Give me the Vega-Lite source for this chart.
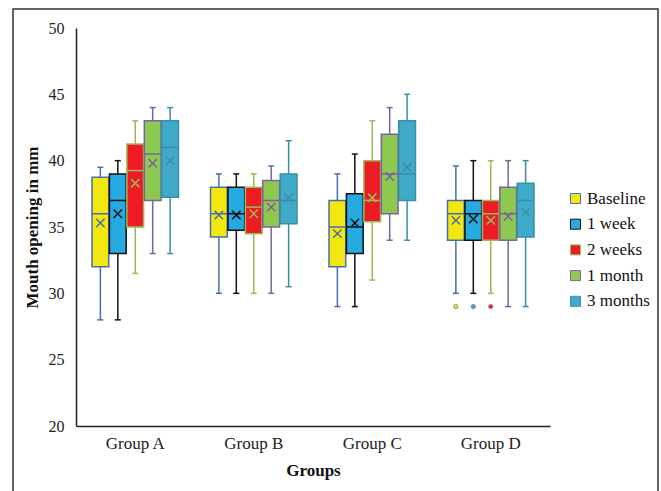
{
  "$schema": "https://vega.github.io/schema/vega-lite/v6.json",
  "width": 645,
  "height": 485,
  "autosize": {"type": "none"},
  "padding": {"left": 13, "top": 9, "right": 3, "bottom": -3},
  "background": "white",
  "config": {
    "font": "Liberation Serif",
    "view": {"stroke": "#333333", "strokeWidth": 1.5},
    "axis": {"grid": false, "ticks": false, "domainColor": "#222222", "domainWidth": 1.5, "labelColor": "#222222", "titleColor": "#111111", "labelFont": "Liberation Serif", "titleFont": "Liberation Serif"},
    "legend": {"labelFont": "Liberation Serif", "titleFont": "Liberation Serif"}
  },
  "datasets": {
    "stats": [
      {"group": "Group A", "time": "Baseline", "min": 28, "q1": 32, "median": 36, "q3": 38.75, "max": 39.5, "mean": 35.3},
      {"group": "Group A", "time": "1 week", "min": 28, "q1": 33, "median": 37, "q3": 39, "max": 40, "mean": 36},
      {"group": "Group A", "time": "2 weeks", "min": 31.5, "q1": 35, "median": 39.25, "q3": 41.25, "max": 43, "mean": 38.3},
      {"group": "Group A", "time": "1 month", "min": 33, "q1": 37, "median": 40.5, "q3": 43, "max": 44, "mean": 39.8},
      {"group": "Group A", "time": "3 months", "min": 33, "q1": 37.25, "median": 41, "q3": 43, "max": 44, "mean": 40},
      {"group": "Group B", "time": "Baseline", "min": 30, "q1": 34.25, "median": 36, "q3": 38, "max": 39, "mean": 35.9},
      {"group": "Group B", "time": "1 week", "min": 30, "q1": 34.75, "median": 36, "q3": 38, "max": 39, "mean": 35.9},
      {"group": "Group B", "time": "2 weeks", "min": 30, "q1": 34.5, "median": 36.5, "q3": 38, "max": 39, "mean": 36},
      {"group": "Group B", "time": "1 month", "min": 30, "q1": 35, "median": 37, "q3": 38.5, "max": 39.6, "mean": 36.5},
      {"group": "Group B", "time": "3 months", "min": 30.5, "q1": 35.25, "median": 37, "q3": 39, "max": 41.5, "mean": 37.2},
      {"group": "Group C", "time": "Baseline", "min": 29, "q1": 32, "median": 35, "q3": 37, "max": 39, "mean": 34.5},
      {"group": "Group C", "time": "1 week", "min": 29, "q1": 33, "median": 35, "q3": 37.5, "max": 40.5, "mean": 35.3},
      {"group": "Group C", "time": "2 weeks", "min": 31, "q1": 35.4, "median": 37, "q3": 40, "max": 43, "mean": 37.2},
      {"group": "Group C", "time": "1 month", "min": 34, "q1": 36, "median": 39, "q3": 42, "max": 44, "mean": 38.8},
      {"group": "Group C", "time": "3 months", "min": 34, "q1": 37, "median": 39, "q3": 43, "max": 45, "mean": 39.5},
      {"group": "Group D", "time": "Baseline", "min": 30, "q1": 34, "median": 36, "q3": 37, "max": 39.6, "mean": 35.5},
      {"group": "Group D", "time": "1 week", "min": 30, "q1": 34, "median": 36, "q3": 37, "max": 40, "mean": 35.6},
      {"group": "Group D", "time": "2 weeks", "min": 30, "q1": 34, "median": 36, "q3": 37, "max": 40, "mean": 35.5},
      {"group": "Group D", "time": "1 month", "min": 29, "q1": 34, "median": 36, "q3": 38, "max": 40, "mean": 35.8},
      {"group": "Group D", "time": "3 months", "min": 29, "q1": 34.25, "median": 37, "q3": 38.3, "max": 40, "mean": 36.1}
    ],
    "outliers": [
      {"group": "Group D", "time": "Baseline", "value": 29},
      {"group": "Group D", "time": "1 week", "value": 29},
      {"group": "Group D", "time": "2 weeks", "value": 29}
    ]
  },
  "encoding": {
    "x": {"field": "group", "type": "nominal", "scale": {"range": [63, 537], "paddingInner": 0.27, "paddingOuter": 0.135},
      "axis": {"title": "Groups", "offset": -68, "labelAngle": 0, "labelFontSize": 17, "labelPadding": 9, "titleFontSize": 17, "titleFontWeight": "bold", "titlePadding": 11}},
    "xOffset": {"field": "time", "type": "nominal", "scale": {"domain": ["Baseline", "1 week", "2 weeks", "1 month", "3 months"], "paddingInner": 0.04, "paddingOuter": 0}}
  },
  "layer": [
    {
      "data": {"name": "stats"},
      "mark": {"type": "rule", "strokeWidth": 1.5},
      "encoding": {
        "y": {"field": "min", "type": "quantitative", "scale": {"domain": [20, 50], "range": [417, 19], "nice": false, "zero": false},
          "axis": {"title": "Mouth opening in mm", "offset": -63, "values": [20, 25, 30, 35, 40, 45, 50], "labelFontSize": 16, "labelPadding": 12, "titleFontSize": 17, "titleFontWeight": "bold", "titlePadding": 7}},
        "y2": {"field": "max"},
        "stroke": {"field": "time", "type": "nominal",
          "scale": {"domain": ["Baseline", "1 week", "2 weeks", "1 month", "3 months"], "range": ["#4a6ea9", "#111111", "#9bbb59", "#7a63a0", "#3a8fa8"]},
          "legend": {"title": null, "orient": "none", "legendX": 554, "legendY": 181, "symbolType": "square", "symbolSize": 100, "symbolStrokeWidth": 1, "labelFontSize": 17, "labelFont": "Liberation Serif", "labelColor": "#111111", "rowPadding": 7.7, "labelOffset": 3}}
      }
    },
    {
      "data": {"name": "stats"},
      "mark": {"type": "point", "shape": "M-1,0L1,0", "filled": false, "size": 36, "strokeWidth": 1.5, "opacity": 1},
      "encoding": {
        "y": {"field": "min", "type": "quantitative"},
        "stroke": {"field": "time", "type": "nominal"}
      }
    },
    {
      "data": {"name": "stats"},
      "mark": {"type": "point", "shape": "M-1,0L1,0", "filled": false, "size": 36, "strokeWidth": 1.5, "opacity": 1},
      "encoding": {
        "y": {"field": "max", "type": "quantitative"},
        "stroke": {"field": "time", "type": "nominal"}
      }
    },
    {
      "data": {"name": "stats"},
      "mark": {"type": "bar", "strokeWidth": 1.5},
      "encoding": {
        "y": {"field": "q1", "type": "quantitative"},
        "y2": {"field": "q3"},
        "fill": {"field": "time", "type": "nominal",
          "scale": {"domain": ["Baseline", "1 week", "2 weeks", "1 month", "3 months"], "range": ["#f2e70f", "#25aae1", "#ed1c24", "#8dc94f", "#3fabc8"]},
          "legend": {"title": null, "orient": "none", "legendX": 554, "legendY": 181, "symbolType": "square", "symbolSize": 100, "symbolStrokeWidth": 1, "labelFontSize": 17, "labelFont": "Liberation Serif", "labelColor": "#111111", "rowPadding": 7.7, "labelOffset": 3}},
        "stroke": {"field": "time", "type": "nominal"}
      }
    },
    {
      "data": {"name": "stats"},
      "mark": {"type": "point", "shape": "M-1,0L1,0", "filled": false, "size": 272, "strokeWidth": 1.5, "opacity": 1},
      "encoding": {
        "y": {"field": "median", "type": "quantitative"},
        "stroke": {"field": "time", "type": "nominal"}
      }
    },
    {
      "data": {"name": "stats"},
      "mark": {"type": "point", "shape": "M-1,-1L1,1M-1,1L1,-1", "filled": false, "size": 70, "strokeWidth": 1.5, "opacity": 1},
      "encoding": {
        "y": {"field": "mean", "type": "quantitative"},
        "stroke": {"field": "time", "type": "nominal"}
      }
    },
    {
      "data": {"name": "outliers"},
      "mark": {"type": "point", "shape": "circle", "filled": true, "size": 18, "stroke": "#8a8a8a", "strokeWidth": 1, "opacity": 1},
      "encoding": {
        "y": {"field": "value", "type": "quantitative"},
        "fill": {"field": "time", "type": "nominal"}
      }
    }
  ]
}
